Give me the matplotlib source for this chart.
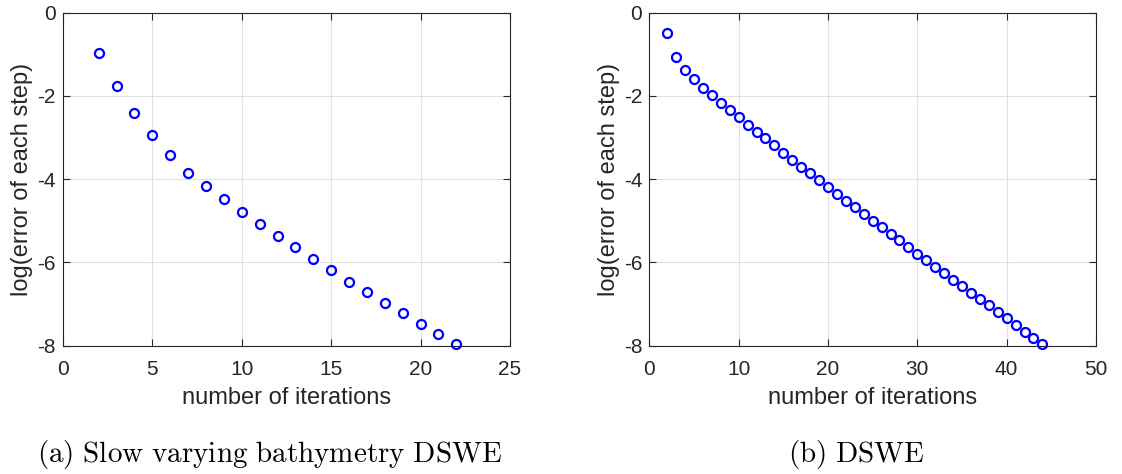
import numpy as np
import matplotlib
matplotlib.use('Agg')
import matplotlib.pyplot as plt

plt.rcParams['font.family'] = ['Liberation Sans', 'DejaVu Sans']
plt.rcParams['mathtext.fontset'] = 'cm'

# (a) slow varying bathymetry
iters_a = list(range(2, 23))
err_a = [-0.97, -1.76, -2.40, -2.94, -3.42, -3.85, -4.16, -4.47, -4.78, -5.07,
         -5.37, -5.64, -5.92, -6.18, -6.46, -6.71, -6.97, -7.22, -7.47, -7.72, -7.96]

# (b) DSWE
iters_b = list(range(2, 45))
err_b = [-0.49, -1.06, -1.37, -1.60, -1.80, -1.98, -2.16, -2.34, -2.51, -2.69,
         -2.86, -3.02, -3.19, -3.37, -3.54, -3.70, -3.86, -4.03, -4.19, -4.36,
         -4.52, -4.68, -4.84, -5.00, -5.16, -5.32, -5.47, -5.63, -5.79, -5.94,
         -6.10, -6.26, -6.42, -6.57, -6.73, -6.88, -7.03, -7.18, -7.34, -7.50,
         -7.66, -7.81, -7.96]

xticks_a = [0, 5, 10, 15, 20, 25]
xticks_b = [0, 10, 20, 30, 40, 50]
yticks = [-8, -6, -4, -2, 0]
captions = ['(a) Slow varying bathymetry DSWE', '(b) DSWE']

fig = plt.figure(figsize=(11.22, 4.74), dpi=100)
ax1 = fig.add_axes([0.0561, 0.2707, 0.3984, 0.7025])
ax2 = fig.add_axes([0.5787, 0.2707, 0.3981, 0.7025])

def style(ax, x, y, xticks):
    ax.plot(x, y, 'o', mfc='none', mec='#0000ff', ms=6.5, mew=1.6, clip_on=False, zorder=3)
    ax.set_xlim(xticks[0], xticks[-1])
    ax.set_ylim(-8, 0)
    ax.set_xticks(xticks)
    ax.set_yticks(yticks)
    ax.set_yticklabels([str(t) for t in yticks])
    ax.grid(True, color='#e0e0e0', lw=0.8)
    ax.set_axisbelow(True)
    for s in ax.spines.values():
        s.set_color('#262626')
        s.set_linewidth(0.8)
    ax.tick_params(direction='in', top=True, right=True, length=5, width=0.8,
                   colors='#262626', labelsize=15, labelcolor='#262626')
    ax.tick_params(axis='x', pad=10)
    ax.tick_params(axis='y', pad=5)
    ax.set_xlabel('number of iterations', fontsize=17, color='#262626', labelpad=6)
    ax.set_ylabel('log(error of each step)', fontsize=17, color='#262626', labelpad=3)

style(ax1, iters_a, err_a, xticks_a)
style(ax2, iters_b, err_b, xticks_b)

def tex(s):
    return r'$\mathrm{' + s.replace(' ', r'\ ') + '}$'

fig.text(0.2405, 0.025, tex(captions[0]), ha='center', va='baseline', fontsize=21)
fig.text(0.763, 0.025, tex(captions[1]), ha='center', va='baseline', fontsize=21)

fig.savefig('out.png', dpi=100)
